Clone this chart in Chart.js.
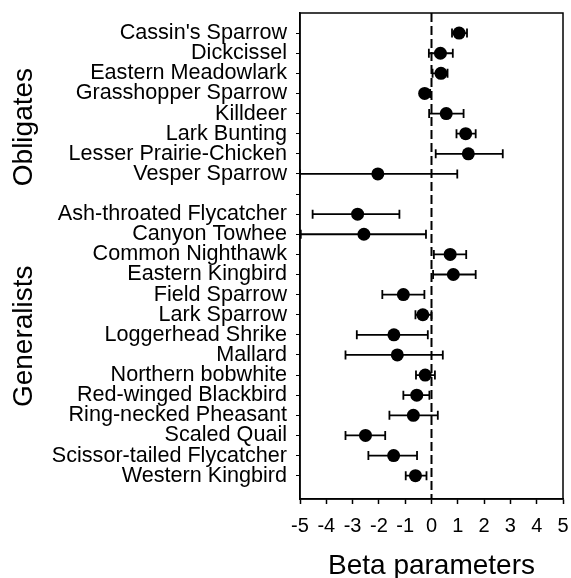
<!DOCTYPE html>
<html>
<head>
<meta charset="utf-8">
<script src="https://cdn.jsdelivr.net/npm/chart.js@4/dist/chart.umd.min.js"></script>
<style>
  html, body { margin: 0; padding: 0; background: #fff; }
  canvas { display: block; }
</style>
</head>
<body>
<canvas id="c" width="571" height="578"></canvas>
<script>
// ---- Data ----
const obligates = ["Cassin's Sparrow", "Dickcissel", "Eastern Meadowlark", "Grasshopper Sparrow",
  "Killdeer", "Lark Bunting", "Lesser Prairie-Chicken", "Vesper Sparrow"];
const obligEst   = [1.05, 0.34, 0.36, -0.26, 0.56, 1.30, 1.40, -2.04];
const obligLower = [0.78, -0.10, 0.04, -0.40, -0.09, 0.95, 0.16, -5.00];
const obligUpper = [1.35, 0.81, 0.61, -0.05, 1.22, 1.68, 2.71, 0.98];

const generalists = ["Ash-throated Flycatcher", "Canyon Towhee", "Common Nighthawk", "Eastern Kingbird",
  "Field Sparrow", "Lark Sparrow", "Loggerhead Shrike", "Mallard", "Northern bobwhite",
  "Red-winged Blackbird", "Ring-necked Pheasant", "Scaled Quail", "Scissor-tailed Flycatcher", "Western Kingbird"];
const genEst   = [-2.81, -2.57, 0.71, 0.83, -1.07, -0.33, -1.43, -1.30, -0.24, -0.56, -0.69, -2.51, -1.44, -0.61];
const genLower = [-4.52, -4.97, 0.09, 0.06, -1.87, -0.61, -2.84, -3.27, -0.59, -1.07, -1.60, -3.27, -2.40, -0.98];
const genUpper = [-1.22, -0.21, 1.32, 1.68, -0.27, 0.00, -0.14, 0.43, 0.13, -0.08, 0.24, -1.76, -0.55, -0.19];

const groupNames = ["Obligates", "Generalists"];
const xTicks = [-5, -4, -3, -2, -1, 0, 1, 2, 3, 4, 5];
const xTitle = "Beta parameters";

// ---- Build rows (one blank row separates the groups) ----
const rowLabels = [...obligates, "", ...generalists];
const rowEst   = [...obligEst, null, ...genEst];
const rowLower = [...obligLower, null, ...genLower];
const rowUpper = [...obligUpper, null, ...genUpper];
const points = [];
rowEst.forEach((v, i) => { if (v !== null) points.push({ x: v, y: i + 1 }); });
const groupCenters = [5.67, 16.07];

const FONT = "'Liberation Sans', Arial, sans-serif";

const decor = {
  id: 'decor',
  beforeDatasetsDraw(chart) {
    const { ctx, chartArea: a, scales: { x, y } } = chart;
    ctx.save();
    ctx.beginPath();
    ctx.rect(a.left, a.top, a.right - a.left, a.bottom - a.top);
    ctx.clip();
    // zero line
    const x0 = x.getPixelForValue(0);
    ctx.strokeStyle = '#000';
    ctx.lineWidth = 2;
    ctx.setLineDash([9, 4]);
    ctx.beginPath();
    ctx.moveTo(x0, a.top);
    ctx.lineTo(x0, a.bottom);
    ctx.stroke();
    ctx.setLineDash([]);
    // error bars
    ctx.lineWidth = 1.8;
    rowEst.forEach((v, i) => {
      if (v === null) return;
      const yp = y.getPixelForValue(i + 1);
      const xl = x.getPixelForValue(rowLower[i]);
      const xu = x.getPixelForValue(rowUpper[i]);
      ctx.beginPath();
      ctx.moveTo(xl, yp); ctx.lineTo(xu, yp);
      ctx.moveTo(xl, yp - 4.5); ctx.lineTo(xl, yp + 4.5);
      ctx.moveTo(xu, yp - 4.5); ctx.lineTo(xu, yp + 4.5);
      ctx.stroke();
    });
    ctx.restore();
  },
  afterDraw(chart) {
    const { ctx, chartArea: a, scales: { y } } = chart;
    ctx.save();
    ctx.strokeStyle = '#000';
    ctx.lineWidth = 1.5;
    ctx.strokeRect(a.left, a.top, a.right - a.left, a.bottom - a.top);
    ctx.fillStyle = '#000';
    ctx.font = '28px ' + FONT;
    ctx.textAlign = 'center';
    ctx.textBaseline = 'middle';
    groupNames.forEach((g, k) => {
      ctx.save();
      ctx.translate(24, y.getPixelForValue(groupCenters[k]));
      ctx.rotate(-Math.PI / 2);
      ctx.fillText(g, 0, 0);
      ctx.restore();
    });
    ctx.restore();
  }
};

function zeroPad(scale) {
  scale.paddingTop = 0; scale.paddingBottom = 0;
  scale.paddingLeft = 0; scale.paddingRight = 0;
}

new Chart(document.getElementById('c'), {
  type: 'scatter',
  data: {
    datasets: [{
      data: points,
      pointRadius: 6.5,
      pointHoverRadius: 6.5,
      backgroundColor: '#000',
      borderColor: '#000',
      borderWidth: 0
    }]
  },
  options: {
    responsive: false,
    animation: false,
    events: [],
    layout: { padding: { top: 13, right: 8, left: 0, bottom: 0 } },
    plugins: { legend: { display: false }, tooltip: { enabled: false } },
    scales: {
      x: {
        type: 'linear',
        min: -5, max: 5,
        afterBuildTicks(scale) { scale.ticks = xTicks.map(v => ({ value: v })); },
        afterFit(scale) { scale.height = 79; zeroPad(scale); },
        ticks: { color: '#000', font: { family: FONT, size: 20 }, padding: 10, maxRotation: 0 },
        grid: { drawOnChartArea: false, drawTicks: true, tickLength: 5, tickColor: '#000', tickWidth: 1.5 },
        border: { display: true, color: '#000', width: 1.5 },
        title: { display: true, text: xTitle, color: '#000', font: { family: FONT, size: 28 }, padding: { top: 4, bottom: -5 } }
      },
      y: {
        type: 'linear',
        reverse: true,
        min: 0, max: 24.16,
        afterBuildTicks(scale) { scale.ticks = rowLabels.map((_, i) => ({ value: i + 1 })); },
        afterFit(scale) { scale.width = 300; zeroPad(scale); },
        ticks: {
          autoSkip: false,
          color: '#000',
          font: { family: FONT, size: 21.6 },
          padding: 9,
          callback: (v) => rowLabels[v - 1] ?? ''
        },
        grid: { drawOnChartArea: false, drawTicks: true, tickLength: 4, tickColor: '#000', tickWidth: 1 },
        border: { display: true, color: '#000', width: 1.5 }
      }
    }
  },
  plugins: [decor]
});
</script>
</body>
</html>
